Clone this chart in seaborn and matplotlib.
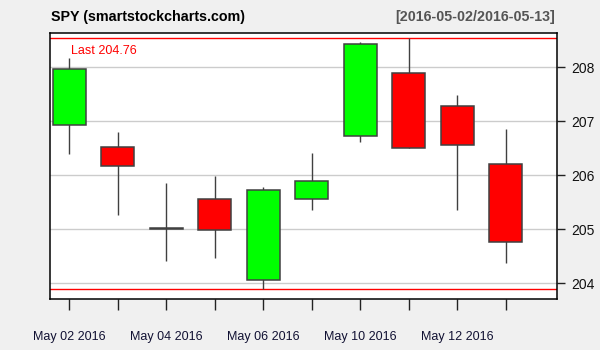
import matplotlib
matplotlib.use("Agg")
import matplotlib.pyplot as plt
import seaborn as sns
import pandas as pd

dates = ["May 02 2016", "May 03 2016", "May 04 2016", "May 05 2016", "May 06 2016",
         "May 09 2016", "May 10 2016", "May 11 2016", "May 12 2016", "May 13 2016"]
opens = [206.93, 206.52, 205.01, 205.56, 204.07, 205.57, 206.72, 207.90, 207.28, 206.20]
highs = [208.17, 206.80, 205.86, 205.99, 205.78, 206.41, 208.47, 208.54, 207.49, 206.86]
lows = [206.40, 205.27, 204.42, 204.47, 203.90, 205.36, 206.62, 206.50, 205.36, 204.38]
closes = [207.96, 206.17, 205.02, 204.98, 205.72, 205.89, 208.44, 206.50, 206.56, 204.76]
yticks = [204, 205, 206, 207, 208]

df = pd.DataFrame({"date": dates, "open": opens, "high": highs, "low": lows, "close": closes})
df["pos"] = range(len(df))
df["up"] = df["close"] >= df["open"]
df["body_lo"] = df[["open", "close"]].min(axis=1)
df["body_h"] = (df["close"] - df["open"]).abs()

sns.set_style("white")
plt.rcParams["font.family"] = ["Liberation Sans", "DejaVu Sans"]

fig = plt.figure(figsize=(6, 3.5), dpi=100, facecolor="#f0f0f0")
ax = fig.add_axes([50 / 600, 1 - 299 / 350, 507 / 600, 266 / 350])
ax.set_facecolor("white")

for y in yticks:
    ax.axhline(y, color="#cccccc", lw=1, zorder=0)

hi_all = max(highs)
lo_all = min(lows)
ax.axhline(hi_all, color="#ff0000", lw=1, zorder=1)
ax.axhline(lo_all, color="#ff0000", lw=1, zorder=1)

ax.vlines(df["pos"], df["low"], df["high"], color="#404040", lw=1, zorder=2)
colors = ["#00ff00" if u else "#ff0000" for u in df["up"]]
ax.bar(df["pos"], df["body_h"], bottom=df["body_lo"], width=0.68,
       color=colors, edgecolor="#404040", linewidth=1.1, zorder=3)

ax.text(0.042, 0.955, f"Last {closes[-1]:.2f}", transform=ax.transAxes,
        color="#ff0000", fontsize=9, va="top", ha="left")

ax.set_xlim(-0.4, 10.06)
ax.set_ylim(203.709, 208.635)
ax.set_xticks(df["pos"])
ax.set_xticklabels([d if i % 2 == 0 and i < 9 else "" for i, d in enumerate(dates)],
                   fontsize=9, color="#111133")
ax.yaxis.tick_right()
ax.set_yticks(yticks)
ax.set_yticklabels([str(y) for y in yticks], fontsize=10, color="#111111")
ax.tick_params(axis="x", length=8, width=1, pad=15, color="#222222", direction="out", bottom=True)
ax.tick_params(axis="y", length=6, width=1, pad=4, color="#222222", direction="out", right=True, left=False)
for s in ax.spines.values():
    s.set_visible(True)
    s.set_color("black")
    s.set_linewidth(1.1)

fig.text(51 / 600, 1 - 17 / 350, "SPY (smartstockcharts.com)", fontsize=10.3,
         fontweight="bold", va="center", ha="left", color="black")
fig.text(555 / 600, 1 - 17 / 350, "[2016-05-02/2016-05-13]", fontsize=10.3,
         fontweight="bold", va="center", ha="right", color="#555555")

fig.savefig("out.png", dpi=100, facecolor="#f0f0f0")
